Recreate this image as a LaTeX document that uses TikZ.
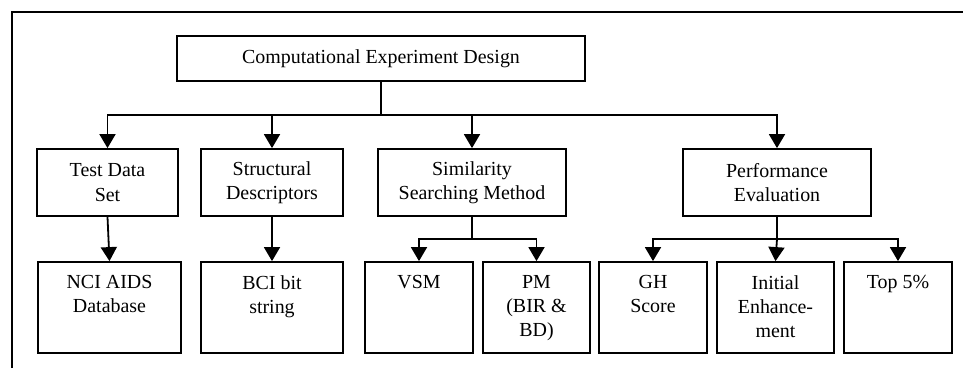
\documentclass[tikz,border=0pt]{standalone}
\usepackage{fontspec}
\setmainfont{Liberation Serif}
\usetikzlibrary{arrows.meta}
\newcommand{\diagfont}{\fontsize{20}{24.4}\selectfont}
\begin{document}
\begin{tikzpicture}[x=1bp, y=-1bp,
  box/.style={draw, line width=1.8bp, inner sep=0pt, align=center, font=\diagfont},
  headbox/.style={box, minimum width=408bp, minimum height=45bp},
  midbox/.style={box, minimum height=67bp, minimum width=#1},
  leaf/.style={box, minimum height=91bp, minimum width=#1},
  lbl/.style={anchor=north, yshift=-14bp, inner sep=0pt, align=center, font=\diagfont},
  link/.style={line width=1.8bp, -{Triangle[width=16bp,length=14bp]}},
  trunk/.style={line width=1.8bp}]
\useasboundingbox (0,0) rectangle (963,368);
% outer frame (top and left edges)
\draw[line width=1.5bp] (12,368) -- (12,12) -- (963,12);

% top level
\node[headbox] (top) at (381,58.5) {Computational Experiment Design};

% second level
\node[midbox=141bp] (tds) at (107.5,182.5) {Test Data\\Set};
\node[midbox=142bp] (sd)  at (272,182.5)   {Structural\\Descriptors};
\node[midbox=188bp] (ssm) at (472,182.5)   {Similarity\\Searching Method};
\node[midbox=188bp] (pe)  at (777,182.5)   {Performance\\Evaluation};

% third level
\node[leaf=143bp, label={[lbl]north:NCI AIDS\\Database}] (nci) at (109.5,307.5) {};
\node[leaf=142bp, label={[lbl]north:BCI bit\\string}]    (bci) at (272,307.5) {};
\node[leaf=108bp, label={[lbl]north:VSM}]                (vsm) at (419,307.5) {};
\node[leaf=107bp, label={[lbl]north:PM\\(BIR \&\\BD)}]   (pm)  at (536.5,307.5) {};
\node[leaf=108bp, label={[lbl]north:GH\\Score}]          (gh)  at (653,307.5) {};
\node[leaf=117bp, label={[lbl]north:Initial\\Enhance-\\ment}] (ie) at (775.5,307.5) {};
\node[leaf=108bp, label={[lbl]north:Top 5\%}]            (t5)  at (898,307.5) {};

% junction points of the buses
\coordinate (j1) at (381,115);
\coordinate (j2) at (472,239);
\coordinate (j3) at (777,239);

% connectors from the top box
\draw[trunk] (top.south) -- (j1);
\draw[link] (j1) -| (tds.north);
\draw[link] (j1) -| (sd.north);
\draw[link] (j1) -| (ssm.north);
\draw[link] (j1) -| (pe.north);

% straight connectors
\draw[link] (tds.south) -- (nci.north);
\draw[link] (sd.south) -- (bci.north);

% similarity searching methods
\draw[trunk] (ssm.south) -- (j2);
\draw[link] (j2) -| (vsm.north);
\draw[link] (j2) -| (pm.north);

% performance measures
\draw[trunk] (pe.south) -- (j3);
\draw[link] (j3) -| (gh.north);
\draw[link] (j3) -- (ie.north);
\draw[link] (j3) -| (t5.north);
\end{tikzpicture}
\end{document}
